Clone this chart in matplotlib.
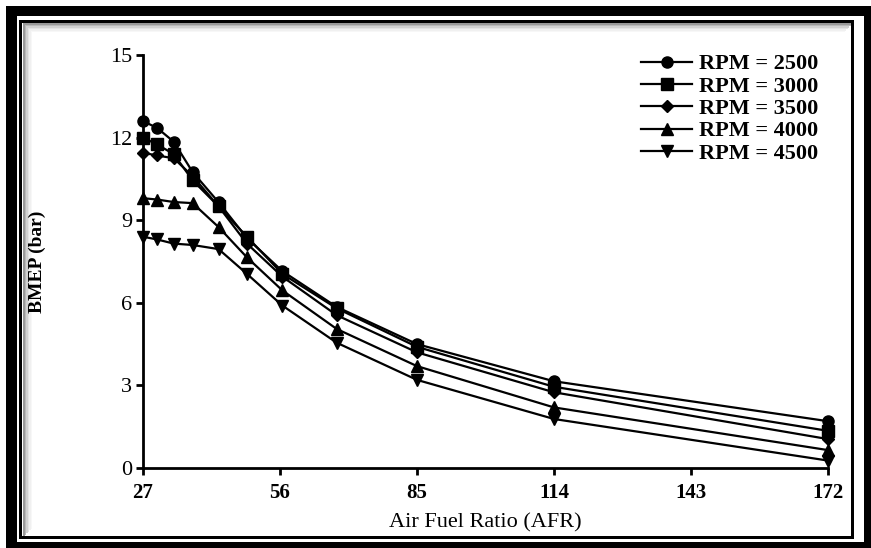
import matplotlib
matplotlib.use("Agg")
import matplotlib.pyplot as plt
from matplotlib.patches import Rectangle

afr = [27, 30, 33.5, 37.5, 43, 49, 56.5, 68, 85, 114, 172]
rpm_labels = ["RPM = 2500", "RPM = 3000", "RPM = 3500", "RPM = 4000", "RPM = 4500"]
bmep_2500 = [12.6, 12.35, 11.85, 10.75, 9.65, 8.35, 7.15, 5.85, 4.5, 3.15, 1.7]
bmep_3000 = [12.0, 11.75, 11.4, 10.45, 9.5, 8.4, 7.05, 5.8, 4.4, 2.95, 1.35]
bmep_3500 = [11.45, 11.35, 11.25, 10.6, 9.5, 8.15, 6.95, 5.55, 4.2, 2.75, 1.05]
bmep_4000 = [9.8, 9.75, 9.66, 9.62, 8.75, 7.65, 6.45, 5.05, 3.7, 2.2, 0.65]
bmep_4500 = [8.4, 8.3, 8.15, 8.1, 7.95, 7.05, 5.9, 4.55, 3.2, 1.78, 0.27]
markers = ["o", "s", "D", "^", "v"]
msizes = [8, 8, 6, 8, 8]
xticks = [27, 56, 85, 114, 143, 172]
yticks = [0, 3, 6, 9, 12, 15]

plt.rcParams['font.family'] = ['Liberation Serif', 'DejaVu Serif']

W, H = 871, 548
fig = plt.figure(figsize=(W / 100, H / 100), dpi=100)
fig.patch.set_facecolor('white')

def fill(x0, y0, x1, y1, color='black'):
    fig.add_artist(Rectangle((x0 / W, 1 - y1 / H), (x1 - x0) / W, (y1 - y0) / H,
                             transform=fig.transFigure, facecolor=color,
                             edgecolor='none', linewidth=0, zorder=-5))

# soft shadow inside inner frame
for i, g in enumerate([0.6, 0.72, 0.82, 0.89, 0.94, 0.97]):
    d = 23 + i * 1.5
    fill(d, d, 852 - i * 1.5, d + 1.6, color=str(g))
    fill(d, d, d + 1.6, 536 - i * 1.5, color=str(g))
# outer thick band
fill(6, 6, 871, 16)
fill(6, 6, 17, 548)
fill(864, 6, 871, 548)
fill(6, 542, 871, 548)
# inner thin line
fill(19, 20, 854, 23)
fill(19, 20, 22, 539)
fill(851, 20, 854, 539)
fill(19, 536, 854, 539)

ax = fig.add_axes([143 / W, 1 - 468 / H, (828 - 143) / W, (468 - 55) / H])
ax.patch.set_alpha(0)
series = [bmep_2500, bmep_3000, bmep_3500, bmep_4000, bmep_4500]
for ys, m, ms, lab in zip(series, markers, msizes, rpm_labels):
    ax.plot(afr, ys, color='black', linewidth=1.6, marker=m, markersize=ms,
            markerfacecolor='black', markeredgecolor='black', label=lab, clip_on=False)

ax.set_xlim(27, 172)
ax.set_ylim(0, 15)
ax.set_xticks(xticks)
ax.set_yticks(yticks)
ax.set_xticklabels([str(t) for t in xticks], fontsize=15, fontweight='bold')
ax.set_yticklabels([str(t) for t in yticks], fontsize=16)
ax.tick_params(axis='both', direction='out', length=5, width=2, color='black')
ax.tick_params(axis='x', pad=6)
ax.tick_params(axis='y', pad=3)
for s in ['top', 'right']:
    ax.spines[s].set_visible(False)
for s in ['left', 'bottom']:
    ax.spines[s].set_linewidth(2)
ax.set_xlabel("Air Fuel Ratio (AFR)", fontsize=16, labelpad=7)
ax.set_ylabel("BMEP (bar)", fontsize=14, fontweight='bold', labelpad=46)

leg = ax.legend(loc='upper right', bbox_to_anchor=(1.005, 1.035), frameon=False,
                prop={'size': 16, 'weight': 'bold'}, handlelength=2.3,
                handletextpad=0.3, labelspacing=0.08, borderaxespad=0.2)

fig.savefig("out.png", dpi=100, facecolor='white')
